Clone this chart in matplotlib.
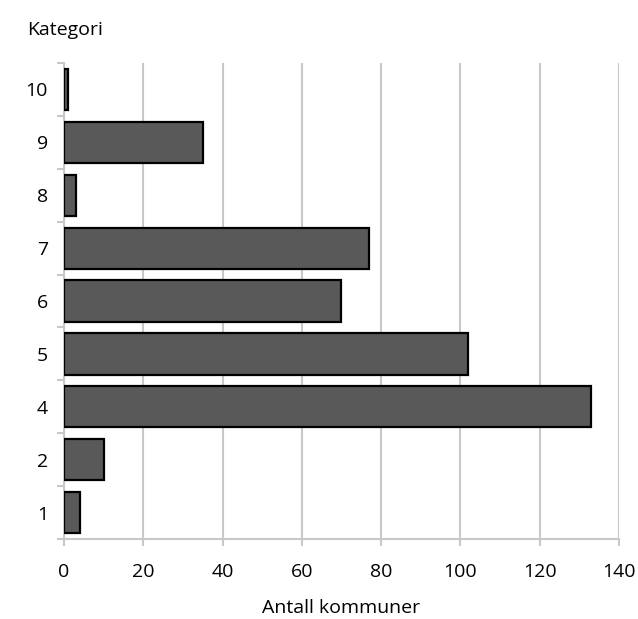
import numpy as np
import matplotlib.pyplot as plt

plt.rcParams['font.family'] = ['Open Sans', 'DejaVu Sans']

# data (nederst til øverst)
kategorier = ["1", "2", "4", "5", "6", "7", "8", "9", "10"]
antall = [4, 10, 133, 102, 70, 77, 3, 35, 1]

grid_col = "#c8c8c8"

fig = plt.figure(figsize=(6.38, 6.19), dpi=100)
ax = fig.add_axes([0.1003, 0.1292, 0.8697, 0.7690])

y = np.arange(len(kategorier))
ax.barh(y, antall, height=0.78, color="#595959", edgecolor="black", linewidth=1.6, zorder=3)

ax.set_xlim(0, 140)
ax.set_ylim(-0.5, len(kategorier) - 0.5)
ax.set_xticks(np.arange(0, 141, 20))
ax.set_yticks(y)
ax.set_yticklabels(kategorier)
ax.set_yticks(np.arange(-0.5, len(kategorier)), minor=True)

ax.grid(axis="x", color=grid_col, linewidth=1.5, zorder=0)
for s in ["top", "right"]:
    ax.spines[s].set_visible(False)
for s in ["left", "bottom"]:
    ax.spines[s].set_color(grid_col)
    ax.spines[s].set_linewidth(1.5)

ax.tick_params(axis="y", which="major", length=0, pad=11.5, labelsize=14)
ax.tick_params(axis="y", which="minor", length=5, width=1.5, color=grid_col)
ax.tick_params(axis="x", length=5, width=1.5, color=grid_col, pad=12, labelsize=14)

ax.set_xlabel("Antall kommuner", fontsize=14, labelpad=13)
fig.text(0.042, 0.951, "Kategori", fontsize=14, ha="left", va="center")

fig.savefig("out.png", dpi=100)
